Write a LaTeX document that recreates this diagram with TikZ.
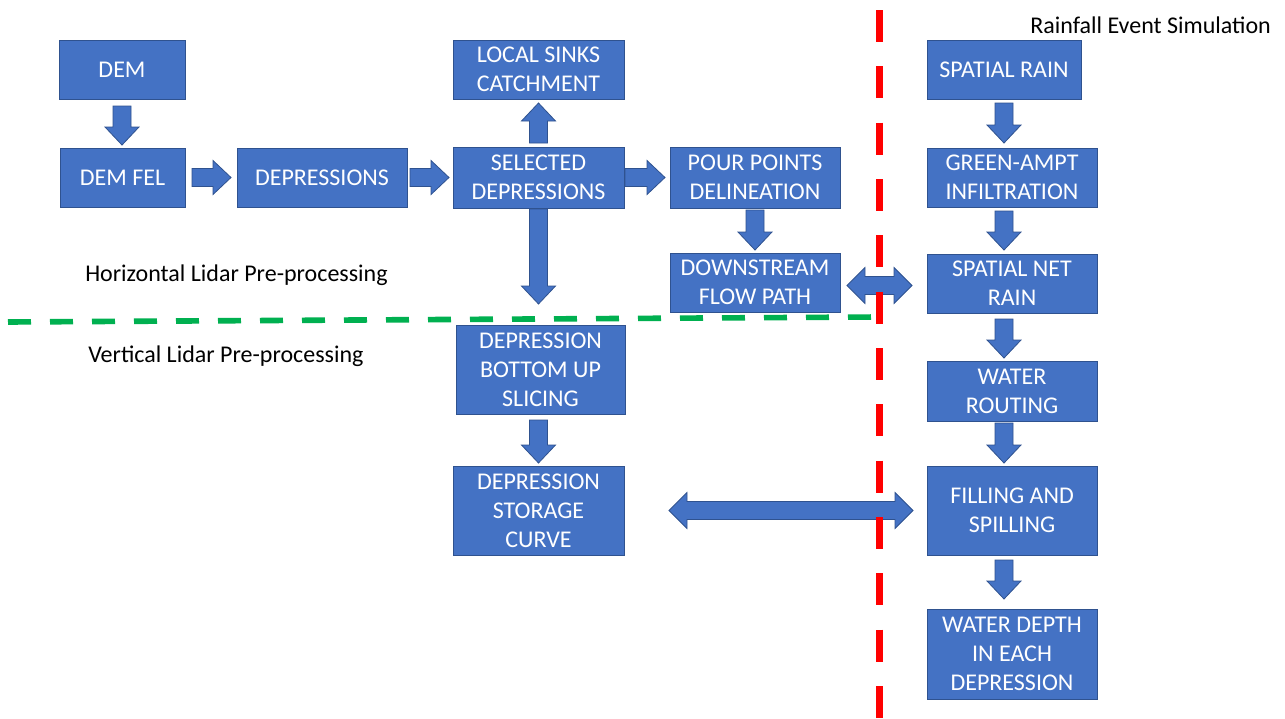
\documentclass[tikz,border=0pt]{standalone}
\usepackage{fontspec}
\setmainfont{Carlito}
\usetikzlibrary{calc}
\definecolor{myblue}{HTML}{4472C4}
\definecolor{myedge}{HTML}{2F528F}
\definecolor{myred}{HTML}{FF0000}
\definecolor{mygreen}{HTML}{00B050}
\tikzset{
  box/.style={fill=myblue, draw=myedge, line width=0.75pt, text=white, align=center,
    inner sep=0pt, outer sep=0pt, font=\fontsize{18pt}{21.75pt}\selectfont},
  blk/.style={fill=myblue, draw=myedge, line width=0.6pt},
  lbl/.style={font=\fontsize{18pt}{21.75pt}\selectfont, text=black, inner sep=0pt, anchor=base west},
  reddash/.style={draw=myred, line width=5.25pt, dash pattern=on 24pt off 18.25pt},
  greendash/.style={draw=mygreen, line width=4.2pt, dash pattern=on 17.25pt off 14.25pt}
}
% box: name, x1, y1, x2, y2, text (pixel coordinates)
\newcommand\bx[6]{\node[box, minimum width={(#4-#2)*0.75pt}, minimum height={(#5-#3)*0.75pt}] (#1) at ({(#2+#4)/2},{(#3+#5)/2}) {#6};}
% single block arrow from #1 to #2
\newcommand\sarrow[2]{%
 \path[blk] let \p1=#1, \p2=#2, \n1={atan2(\y2-\y1,\x2-\x1)}, \n2={veclen(\x2-\x1,\y2-\y1)} in
 [shift={(\p1)}, rotate=\n1]
 (0pt,-6.75pt) -- ({\n2*1pt-13.5pt},-6.75pt) -- ({\n2*1pt-13.5pt},-12.75pt) -- ({\n2*1pt},0pt)
 -- ({\n2*1pt-13.5pt},12.75pt) -- ({\n2*1pt-13.5pt},6.75pt) -- (0pt,6.75pt) -- cycle;}
% double block arrow between #1 and #2
\newcommand\darrow[2]{%
 \path[blk] let \p1=#1, \p2=#2, \n1={atan2(\y2-\y1,\x2-\x1)}, \n2={veclen(\x2-\x1,\y2-\y1)} in
 [shift={(\p1)}, rotate=\n1]
 (0pt,0pt) -- (13.5pt,-13.5pt) -- (13.5pt,-6.75pt) -- ({\n2*1pt-13.5pt},-6.75pt) -- ({\n2*1pt-13.5pt},-13.5pt)
 -- ({\n2*1pt},0pt) -- ({\n2*1pt-13.5pt},13.5pt) -- ({\n2*1pt-13.5pt},6.75pt) -- (13.5pt,6.75pt) -- (13.5pt,13.5pt) -- cycle;}
\begin{document}
\begin{tikzpicture}[x=0.75pt,y=-0.75pt]
\useasboundingbox (0,0) rectangle (1285,718);
\fill[white] (0,0) rectangle (1285,718);
% boxes
\bx{dem}{59}{40}{185}{99}{DEM}
\bx{demfel}{60}{148}{185}{207}{DEM FEL}
\bx{depr}{237}{148}{407}{207}{DEPRESSIONS}
\bx{local}{453}{40}{624}{99}{LOCAL SINKS\\CATCHMENT}
\bx{sel}{453}{147}{624}{208}{SELECTED\\DEPRESSIONS}
\bx{pour}{670}{147}{840}{208}{POUR POINTS\\DELINEATION}
\bx{down}{670}{253}{840}{312}{DOWNSTREAM\\FLOW PATH}
\bx{depbot}{456}{325}{625}{414}{DEPRESSION\\BOTTOM UP\\SLICING}
\bx{stor}{453}{466}{624}{555}{DEPRESSION\\STORAGE\\CURVE}
\bx{rain}{927}{40}{1081}{99}{SPATIAL RAIN}
\bx{green}{927}{148}{1097}{207}{GREEN-AMPT\\INFILTRATION}
\bx{snr}{927}{254}{1097}{313}{SPATIAL NET\\RAIN}
\bx{wr}{927}{361}{1097}{421}{WATER\\ROUTING}
\bx{fill}{927}{466}{1097}{555}{FILLING AND\\SPILLING}
\bx{wd}{927}{609}{1097}{699}{WATER DEPTH\\IN EACH\\DEPRESSION}
% labels
\node[lbl] (t1) at (1030,33) {Rainfall Event Simulation};
\node[lbl] (t2) at (85,281) {Horizontal Lidar Pre-processing};
\node[lbl] (t3) at (88,362) {Vertical Lidar Pre-processing};
% block arrows
\sarrow{($(dem.south)+(0,7)$)}{($(dem.south |- demfel.north)+(0,-3)$)}
\sarrow{($(demfel.east)+(7,0)$)}{($(demfel.east -| depr.west)+(-6,0)$)}
\sarrow{($(depr.east)+(3,0)$)}{($(depr.east -| sel.west)+(-4,0)$)}
\sarrow{($(sel.north)+(0,-4)$)}{($(sel.north |- local.south)+(0,4)$)}
\sarrow{($(sel.east)+(1,0)$)}{($(sel.east -| pour.west)+(-5,0)$)}
\sarrow{($(sel.south)+(0,1)$)}{($(sel.south |- depbot.north)+(0,-21)$)}
\sarrow{($(pour.south)+(0,2)$)}{($(pour.south |- down.north)+(0,-3)$)}
\darrow{($(down.east)+(7,3)$)}{($(down.east -| snr.west)+(-15,3)$)}
\sarrow{($(stor.north |- depbot.south)+(0,6)$)}{($(stor.north)+(0,-3)$)}
\darrow{($(stor.east)+(45,0)$)}{($(stor.east -| fill.west)+(-14,0)$)}
\sarrow{($(rain.south)+(0,4)$)}{($(rain.south |- green.north)+(0,-5)$)}
\sarrow{($(rain.south |- green.south)+(0,4)$)}{($(rain.south |- snr.north)+(0,-4)$)}
\sarrow{($(rain.south |- snr.south)+(0,6)$)}{($(rain.south |- wr.north)+(0,-3)$)}
\sarrow{($(rain.south |- wr.south)+(0,2)$)}{($(rain.south |- fill.north)+(0,-3)$)}
\sarrow{($(rain.south |- fill.south)+(0,5)$)}{($(rain.south |- wd.north)+(0,-10)$)}
% dividing lines
\coordinate (gl) at (8,322);
\coordinate (gr) at (878,317);
\draw[greendash] (gl) -- (gr);
\coordinate (rt) at (879,10);
\coordinate (rb) at (879,718);
\draw[reddash] (rt) -- (rb);
\end{tikzpicture}
\end{document}
